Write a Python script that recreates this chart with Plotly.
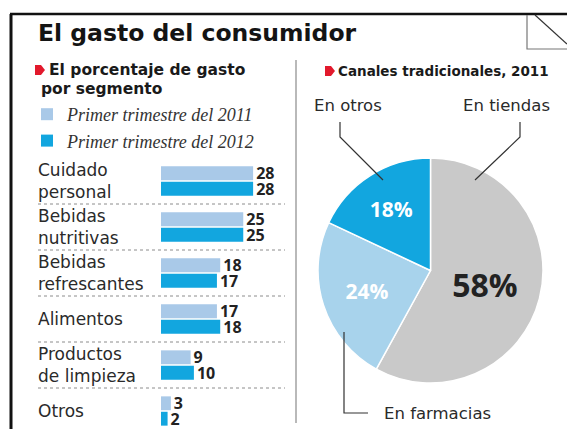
import plotly.graph_objects as go

# ---- data ----
categories = ["Cuidado personal", "Bebidas nutritivas", "Bebidas refrescantes",
              "Alimentos", "Productos de limpieza", "Otros"]
category_lines = ["Cuidado<br>personal", "Bebidas<br>nutritivas", "Bebidas<br>refrescantes",
                  "Alimentos", "Productos<br>de limpieza", "Otros"]
q1_2011 = [28, 25, 18, 17, 9, 3]
q1_2012 = [28, 25, 17, 18, 10, 2]
series_names = ["Primer trimestre del 2011", "Primer trimestre del 2012"]

channels = ["En tiendas", "En farmacias", "En otros"]
channel_share = [58, 24, 18]

W, H = 567, 429
LIGHT = "#a9c9e8"
DARK = "#12a6df"
PIE_LIGHT = "#a8d3ec"
GRAY = "#c9c9c9"
INK = "#222222"
SANS = "DejaVu Sans"
NUM = "Open Sans"


def px(x):
    return x / W


def py(y):
    return 1 - y / H


fig = go.Figure()

# grouped horizontal bars
for vals, name, color in [(q1_2011, series_names[0], LIGHT), (q1_2012, series_names[1], DARK)]:
    fig.add_trace(go.Bar(
        y=categories, x=vals, name=name, orientation="h",
        marker=dict(color=color, line=dict(width=0)),
        text=[str(v) for v in vals], textposition="outside",
        textfont=dict(family=NUM, size=16, color=INK, weight="bold"),
        constraintext="none", cliponaxis=False,
        hoverinfo="skip",
    ))

# pie of traditional channels
fig.add_trace(go.Pie(
    labels=channels, values=channel_share, sort=False,
    direction="clockwise", rotation=0,
    marker=dict(colors=[GRAY, PIE_LIGHT, DARK], line=dict(color="white", width=1.5)),
    texttemplate="%{value}%", textposition="inside",
    insidetextorientation="horizontal",
    textfont=dict(family=NUM, size=[32, 21, 21], color=[INK, "white", "white"], weight="bold"),
    domain=dict(x=[px(318), px(543)], y=[py(383), py(158)]),
    showlegend=False, hoverinfo="skip",
))

row0, pitch = 181, 46
fig.update_layout(
    width=W, height=H,
    margin=dict(l=0, r=0, t=0, b=0),
    paper_bgcolor="white", plot_bgcolor="rgba(0,0,0,0)",
    barmode="group", bargap=0.33, bargroupgap=0.1,
    xaxis=dict(domain=[px(161), px(295)], range=[0, 134 / 3.29],
               visible=False, fixedrange=True),
    yaxis=dict(domain=[0, py(158)],
               range=[(H - row0) / pitch, -0.5],
               showticklabels=False, showgrid=False, zeroline=False,
               ticks="", showline=False),
    legend=dict(x=px(27), y=py(96), xanchor="left", yanchor="top",
                bgcolor="rgba(0,0,0,0)", tracegroupgap=0,
                font=dict(family="Liberation Serif", size=18, style="italic", color="#333333")),
    showlegend=True,
)

shapes = []
annotations = []

# outer frame and page corner
shapes.append(dict(type="line", xref="paper", yref="paper",
                   x0=px(11), x1=px(11), y0=py(14), y1=0, line=dict(color="#111", width=3)))
shapes.append(dict(type="line", xref="paper", yref="paper",
                   x0=px(10), x1=1, y0=py(14), y1=py(14), line=dict(color="#111", width=2.5)))
shapes.append(dict(type="path", xref="paper", yref="paper",
                   path=f"M {px(527)},{py(15)} L {px(527)},{py(49)} L 1,{py(49)}",
                   line=dict(color="#777", width=1.2)))
shapes.append(dict(type="line", xref="paper", yref="paper",
                   x0=px(535), x1=1, y0=py(15), y1=py(44), line=dict(color="#333", width=1.2)))

# panel divider
shapes.append(dict(type="line", xref="paper", yref="paper",
                   x0=px(296), x1=px(296), y0=py(60), y1=py(423), line=dict(color="#8a8a8a", width=1.2)))

# red section markers
for bx, by in [(35, 70), (325, 71)]:
    shapes.append(dict(type="path", xref="paper", yref="paper",
                       path=(f"M {px(bx)},{py(by - 5)} L {px(bx + 6)},{py(by - 5)} "
                             f"L {px(bx + 10)},{py(by)} L {px(bx + 6)},{py(by + 5)} "
                             f"L {px(bx)},{py(by + 5)} Z"),
                       fillcolor="#e2192c", line=dict(width=0)))

# dotted row separators
for i in range(len(categories) - 1):
    yy = row0 + pitch * i + pitch / 2
    shapes.append(dict(type="line", xref="paper", yref="paper",
                       x0=px(38), x1=px(285), y0=py(yy), y1=py(yy),
                       line=dict(color="#8c8c8c", width=1, dash="dot")))

# category labels
for cat, lines in zip(categories, category_lines):
    annotations.append(dict(x=px(36), xref="paper", y=cat, yref="y",
                            text=lines, showarrow=False, xanchor="left", yanchor="middle",
                            align="left",
                            font=dict(family=SANS, size=17, color="#2a2a2a")))

# headings
annotations.append(dict(x=px(36), y=py(33), xref="paper", yref="paper",
                        text="El gasto del consumidor", showarrow=False,
                        xanchor="left", yanchor="middle",
                        font=dict(family=SANS, size=23.5, color="#141414", weight="bold")))
annotations.append(dict(x=px(47), y=py(70), xref="paper", yref="paper",
                        text="El porcentaje de gasto", showarrow=False,
                        xanchor="left", yanchor="middle",
                        font=dict(family=SANS, size=15.5, color="#1a1a1a", weight="bold")))
annotations.append(dict(x=px(39), y=py(89), xref="paper", yref="paper",
                        text="por segmento", showarrow=False,
                        xanchor="left", yanchor="middle",
                        font=dict(family=SANS, size=15.5, color="#1a1a1a", weight="bold")))
annotations.append(dict(x=px(336), y=py(71), xref="paper", yref="paper",
                        text="Canales tradicionales, 2011", showarrow=False,
                        xanchor="left", yanchor="middle",
                        font=dict(family=SANS, size=13.5, color="#1a1a1a", weight="bold")))

# pie callouts
callouts = [
    ("En otros", 312, 105, f"M {px(340)},{py(122)} L {px(340)},{py(137)} L {px(383)},{py(180)}"),
    ("En tiendas", 461, 105, f"M {px(520)},{py(122)} L {px(520)},{py(137)} L {px(475)},{py(180)}"),
    ("En farmacias", 382, 413, f"M {px(344)},{py(332)} L {px(344)},{py(413)} L {px(368)},{py(413)}"),
]
for label, lx, ly, path in callouts:
    annotations.append(dict(x=px(lx), y=py(ly), xref="paper", yref="paper",
                            text=label, showarrow=False, xanchor="left", yanchor="middle",
                            font=dict(family=SANS, size=16.5, color="#2a2a2a")))
    shapes.append(dict(type="path", xref="paper", yref="paper", path=path,
                       line=dict(color="#333", width=1.2)))

fig.update_layout(shapes=shapes, annotations=annotations)

fig.write_html("out.html")
